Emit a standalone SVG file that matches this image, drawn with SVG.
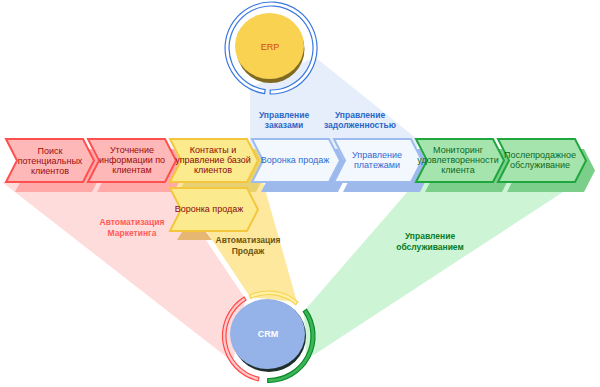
<svg xmlns="http://www.w3.org/2000/svg" xmlns:xlink="http://www.w3.org/1999/xlink" width="600" height="387" viewBox="0 0 600 387">
<style>
text{font-family:"Liberation Sans",Arial,sans-serif;font-size:9px;text-anchor:middle}
.b{font-weight:bold}
.cr{fill:#ffb8b8;stroke:#ff4f4f;stroke-width:2;stroke-linejoin:miter}
.cy{fill:#fcea8e;stroke:#f3c63e;stroke-width:2}
.cb{fill:#f3f8ff;stroke:#9dbbee;stroke-width:2}
.cg{fill:#a6e4ae;stroke:#1fa63f;stroke-width:2}
.sr{fill:#ffa9a9}
.sy{fill:#e8d170}
.sb{fill:#9db8ea}
.sg{fill:#7ccf8a}
.tr{fill:#9a0c0c}
.ty{fill:#8a0a0a}
.tb{fill:#2f69d0}
.tg{fill:#0a6a1e}
</style>
<defs>
<path id="chev" d="M0,0 H77 L88,21.5 L77,43 H0 L11,21.5 Z"/>
<clipPath id="subclip"><rect x="170" y="180" width="120" height="51"/></clipPath>
</defs>

<g id="fans">
<polygon points="250,88 315,57 417,139 417,150 250,150" fill="#e5eefa"/>
<polygon points="2,182 167,182 245.5,299 233,362" fill="#ffdcdc"/>
<polygon points="174,182 263,182 297,302 250,297" fill="#fde89e"/>
<polygon points="422,175 589,175 306,360 304,311" fill="#cdf5d5"/>
</g>

<g id="shadows">
<use href="#chev" x="15" y="149" class="sr"/>
<use href="#chev" x="97" y="149" class="sr"/>
<use href="#chev" x="179" y="149" class="sy"/>
<use href="#chev" x="261" y="149" class="sb"/>
<use href="#chev" x="343" y="149" class="sb"/>
<use href="#chev" x="425" y="149" class="sg"/>
<use href="#chev" x="507" y="149" class="sg"/>
<use href="#chev" x="178" y="196" class="sy" clip-path="url(#subclip)"/>
<polygon points="182,232 206,232 212,240 177,240" fill="#e6b772"/>
</g>

<g id="n1"><use href="#chev" x="6" y="139" class="cr"/>
<text x="50" y="154" class="tr">Поиск</text><text x="50" y="164" class="tr">потенциальных</text><text x="50" y="174" class="tr">клиентов</text></g>
<g id="n2"><use href="#chev" x="88" y="139" class="cr"/>
<text x="132" y="153" class="tr">Уточнение</text><text x="132" y="163" class="tr">информации по</text><text x="132" y="173" class="tr">клиентам</text></g>
<g id="n3"><use href="#chev" x="170" y="139" class="cy"/>
<text x="213" y="153" class="ty">Контакты и</text><text x="213" y="163" class="ty">управление базой</text><text x="213" y="173" class="ty">клиентов</text></g>
<g id="n4"><use href="#chev" x="252" y="139" class="cb"/>
<text x="295" y="163" class="tb">Воронка продаж</text></g>
<g id="n5"><use href="#chev" x="334" y="139" class="cb"/>
<text x="377" y="158" class="tb">Управление</text><text x="377" y="168" class="tb">платежами</text></g>
<g id="n6"><use href="#chev" x="416" y="139" class="cg"/>
<text x="458" y="153" class="tg">Мониторинг</text><text x="458" y="163" class="tg">удовлетворенности</text><text x="458" y="173" class="tg">клиента</text></g>
<g id="n7"><use href="#chev" x="498" y="139" class="cg"/>
<text x="540" y="158" class="tg">Послепродажное</text><text x="540" y="168" class="tg">обслуживание</text></g>
<g id="n8"><use href="#chev" x="170" y="188" class="cy"/>
<text x="209" y="212" class="ty">Воронка продаж</text></g>

<g id="erp">
<path d="M264.6,93.55 A46,46 0 1 1 270.2,94 L270.27,90 A42,42 0 1 0 265.15,89.59 Z" fill="#ffffff" stroke="#3a78e0" stroke-width="1.2"/>
<ellipse cx="270.5" cy="49" rx="34" ry="34" fill="#806a22"/>
<ellipse cx="269.5" cy="46" rx="34.5" ry="33" fill="#f8d250"/>
<text x="270" y="50" fill="#d24a12">ERP</text>
</g>

<g id="crm">
<path d="M258.15,380.8 A46,46 0 0 1 244.1,297 L245.98,299.96 A42.5,42.5 0 0 0 258.94,377.41 Z" fill="#ffc8c8" stroke="#ff4a4a" stroke-width="1.2"/>
<path d="M306.59,309.31 A46.5,46.5 0 0 1 267.69,382.49 L267.76,378.49 A42.5,42.5 0 0 0 303.31,311.62 Z" fill="#3cb556" stroke="#0a8a2a" stroke-width="1.2"/>
<path d="M249.48,295.22 A45,45 0 0 1 298.02,302.04 L295.73,304.68 A41.5,41.5 0 0 0 250.96,298.39 Z" fill="#fff0a8" stroke="#f5d550" stroke-width="1.2"/>
<ellipse cx="269" cy="336" rx="37" ry="36" fill="#1e2e2a"/>
<ellipse cx="267.5" cy="334" rx="37.5" ry="35" fill="#95b3e8"/>
<text x="268" y="337" class="b" fill="#ffffff">CRM</text>
</g>

<g id="labels">
<text x="284" y="118" class="b" fill="#2b66c8" style="font-size:8.5px">Управление</text>
<text x="284" y="128" class="b" fill="#2b66c8" style="font-size:8.5px">заказами</text>
<text x="360" y="118" class="b" fill="#2b66c8" style="font-size:8.5px">Управление</text>
<text x="360" y="128" class="b" fill="#2b66c8" style="font-size:8.5px">задолженностью</text>
<text x="132" y="225" class="b" fill="#ff5a5a" style="font-size:8.5px">Автоматизация</text>
<text x="132" y="236" class="b" fill="#ff5a5a" style="font-size:8.5px">Маркетинга</text>
<text x="248" y="243" class="b" fill="#6a5510" style="font-size:8.5px">Автоматизация</text>
<text x="248" y="254" class="b" fill="#6a5510" style="font-size:8.5px">Продаж</text>
<text x="430" y="239" class="b" fill="#0b7a24" style="font-size:8.5px">Управление</text>
<text x="430" y="250" class="b" fill="#0b7a24" style="font-size:8.5px">обслуживанием</text>
</g>
</svg>
